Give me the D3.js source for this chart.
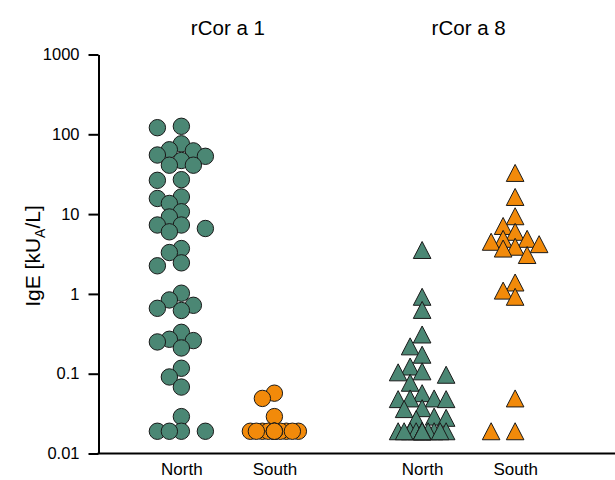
<!DOCTYPE html>
<html>
<head>
<meta charset="utf-8">
<script src="https://cdn.jsdelivr.net/npm/d3@7"></script>
<style>
  body { margin: 0; background: #fff; }
  svg { display: block; font-family: "Liberation Sans", Arial, sans-serif; }
</style>
</head>
<body>
<svg id="chart" width="615" height="480"></svg>
<script>
// data (kU_A/L); values at the floor are below detection
const allergens = ['rCor a 1', 'rCor a 8'];
const regions = ['North', 'South'];
const yTicks = [0.01, 0.1, 1, 10, 100, 1000];

const northCora1 = [126, 121, 76, 64, 62, 55, 53, 47, 41, 41, 27, 26.5, 16.4, 15.7, 13.6,
  10.7, 9.2, 7.3, 7.3, 6.6, 6.0, 3.7, 3.3, 2.45, 2.25, 1.02, 0.84, 0.72, 0.66, 0.62,
  0.33, 0.27, 0.26, 0.25, 0.21, 0.117, 0.091, 0.068, 0.029, 0.019, 0.019, 0.019, 0.019];
const southCora1 = [0.057, 0.049, 0.029, 0.019, 0.019, 0.019, 0.019, 0.019, 0.019, 0.019,
  0.019, 0.019, 0.019, 0.019, 0.019];
const northCora8 = [3.55, 0.92, 0.63, 0.31, 0.22, 0.173, 0.123, 0.107, 0.104, 0.097, 0.077,
  0.057, 0.049, 0.049, 0.048, 0.048, 0.037, 0.036, 0.029, 0.028, 0.027,
  0.019, 0.019, 0.019, 0.019, 0.019, 0.019, 0.019, 0.019, 0.019, 0.019, 0.019, 0.019];
const southCora8 = [32.8, 16.4, 9.4, 7.1, 6.0, 4.9, 4.9, 4.5, 4.2, 3.9, 3.7, 3.07, 1.39,
  1.10, 0.92, 0.049, 0.019, 0.019];

const groups = [
  { allergen: 'rCor a 1', region: 'North', values: northCora1 },
  { allergen: 'rCor a 1', region: 'South', values: southCora1 },
  { allergen: 'rCor a 8', region: 'North', values: northCora8 },
  { allergen: 'rCor a 8', region: 'South', values: southCora8 },
];

const colors = { North: '#4b8774', South: '#f28a0a' };
const W = 615, H = 480;
const margin = { top: 54.5, left: 98.5, bottom: 26.5 };

const svg = d3.select('#chart');

const y = d3.scaleLog()
  .domain([0.01, 1000])
  .range([H - margin.bottom, margin.top]);

const x0 = d3.scaleBand()
  .domain(allergens)
  .range([margin.left + 9, 589]);

const xi = d3.scalePoint()
  .domain(regions)
  .range([-46.5, 46.5]);

// simple column scatter: put each point in the nearest free slot of the column
function swarm(values, cx) {
  const slots = [0, -12, 12, -24, 24];
  const fine = d3.range(-24, 25, 6).sort((a, b) => Math.abs(a) - Math.abs(b) || a - b);
  const minDist = 12.5;
  const placed = [];
  const pts = values.map((v) => ({ v, y: y(v) })).sort((a, b) => a.y - b.y);
  const closest = (dx, py) =>
    placed.length
      ? d3.min(placed, (q) => Math.hypot(q.dx - dx, q.y - py))
      : Infinity;
  pts.forEach((p) => {
    let dx = slots.find((s) => closest(s, p.y) >= minDist);
    if (dx === undefined) {
      dx = fine[d3.maxIndex(fine, (s) => closest(s, p.y))];
    }
    p.dx = dx;
    placed.push(p);
  });
  return pts.map((p) => ({ ...p, x: cx + p.dx }));
}

const triangle = 'M0,-8.5L8.8,8.5L-8.8,8.5Z';

// y axis
const yAxis = svg.append('g')
  .attr('transform', `translate(${margin.left},0)`)
  .call(d3.axisLeft(y).tickValues(yTicks).tickFormat((d) => d).tickSize(10).tickPadding(9).tickSizeOuter(0));
yAxis.select('.domain').attr('stroke-width', 2);
yAxis.selectAll('.tick line').attr('stroke-width', 2);
yAxis.selectAll('.tick text')
  .attr('font-size', 16.5)
  .attr('fill', '#000')
  .attr('font-family', '"Liberation Sans", Arial, sans-serif');

// x base line runs to the right edge
svg.append('line')
  .attr('x1', margin.left - 1)
  .attr('x2', W)
  .attr('y1', y(0.01))
  .attr('y2', y(0.01))
  .attr('stroke', '#000')
  .attr('stroke-width', 2);

// region labels under each allergen block
allergens.forEach((a) => {
  const cx = x0(a) + x0.bandwidth() / 2;
  const g = svg.append('g')
    .attr('transform', `translate(${cx},${y(0.01)})`)
    .call(d3.axisBottom(xi).tickSize(0).tickPadding(9));
  g.select('.domain').remove();
  g.selectAll('.tick text')
    .attr('font-size', 17)
    .attr('fill', '#000')
    .attr('font-family', '"Liberation Sans", Arial, sans-serif');

  svg.append('text')
    .attr('x', cx)
    .attr('y', 35)
    .attr('text-anchor', 'middle')
    .attr('font-size', 20.5)
    .text(a);
});

// y label
const yLabel = svg.append('text')
  .attr('transform', 'translate(40,256) rotate(-90)')
  .attr('text-anchor', 'middle')
  .attr('font-size', 21);
yLabel.append('tspan').text('IgE [kU');
yLabel.append('tspan').attr('font-size', 14).attr('dy', 5).text('A');
yLabel.append('tspan').attr('dy', -5).text('/L]');

// points
groups.forEach((grp) => {
  const cx = x0(grp.allergen) + x0.bandwidth() / 2 + xi(grp.region);
  const pts = swarm(grp.values, cx);
  const g = svg.append('g').attr('class', 'grp');
  if (grp.allergen === 'rCor a 1') {
    g.selectAll('circle')
      .data(pts)
      .join('circle')
      .attr('cx', (d) => d.x)
      .attr('cy', (d) => d.y)
      .attr('r', 8.2)
      .attr('fill', colors[grp.region])
      .attr('stroke', '#1a1a1a')
      .attr('stroke-width', 1);
  } else {
    g.selectAll('path')
      .data(pts)
      .join('path')
      .attr('d', triangle)
      .attr('transform', (d) => `translate(${d.x},${d.y})`)
      .attr('fill', colors[grp.region])
      .attr('stroke', '#1a1a1a')
      .attr('stroke-width', 1);
  }
});
</script>
</body>
</html>
